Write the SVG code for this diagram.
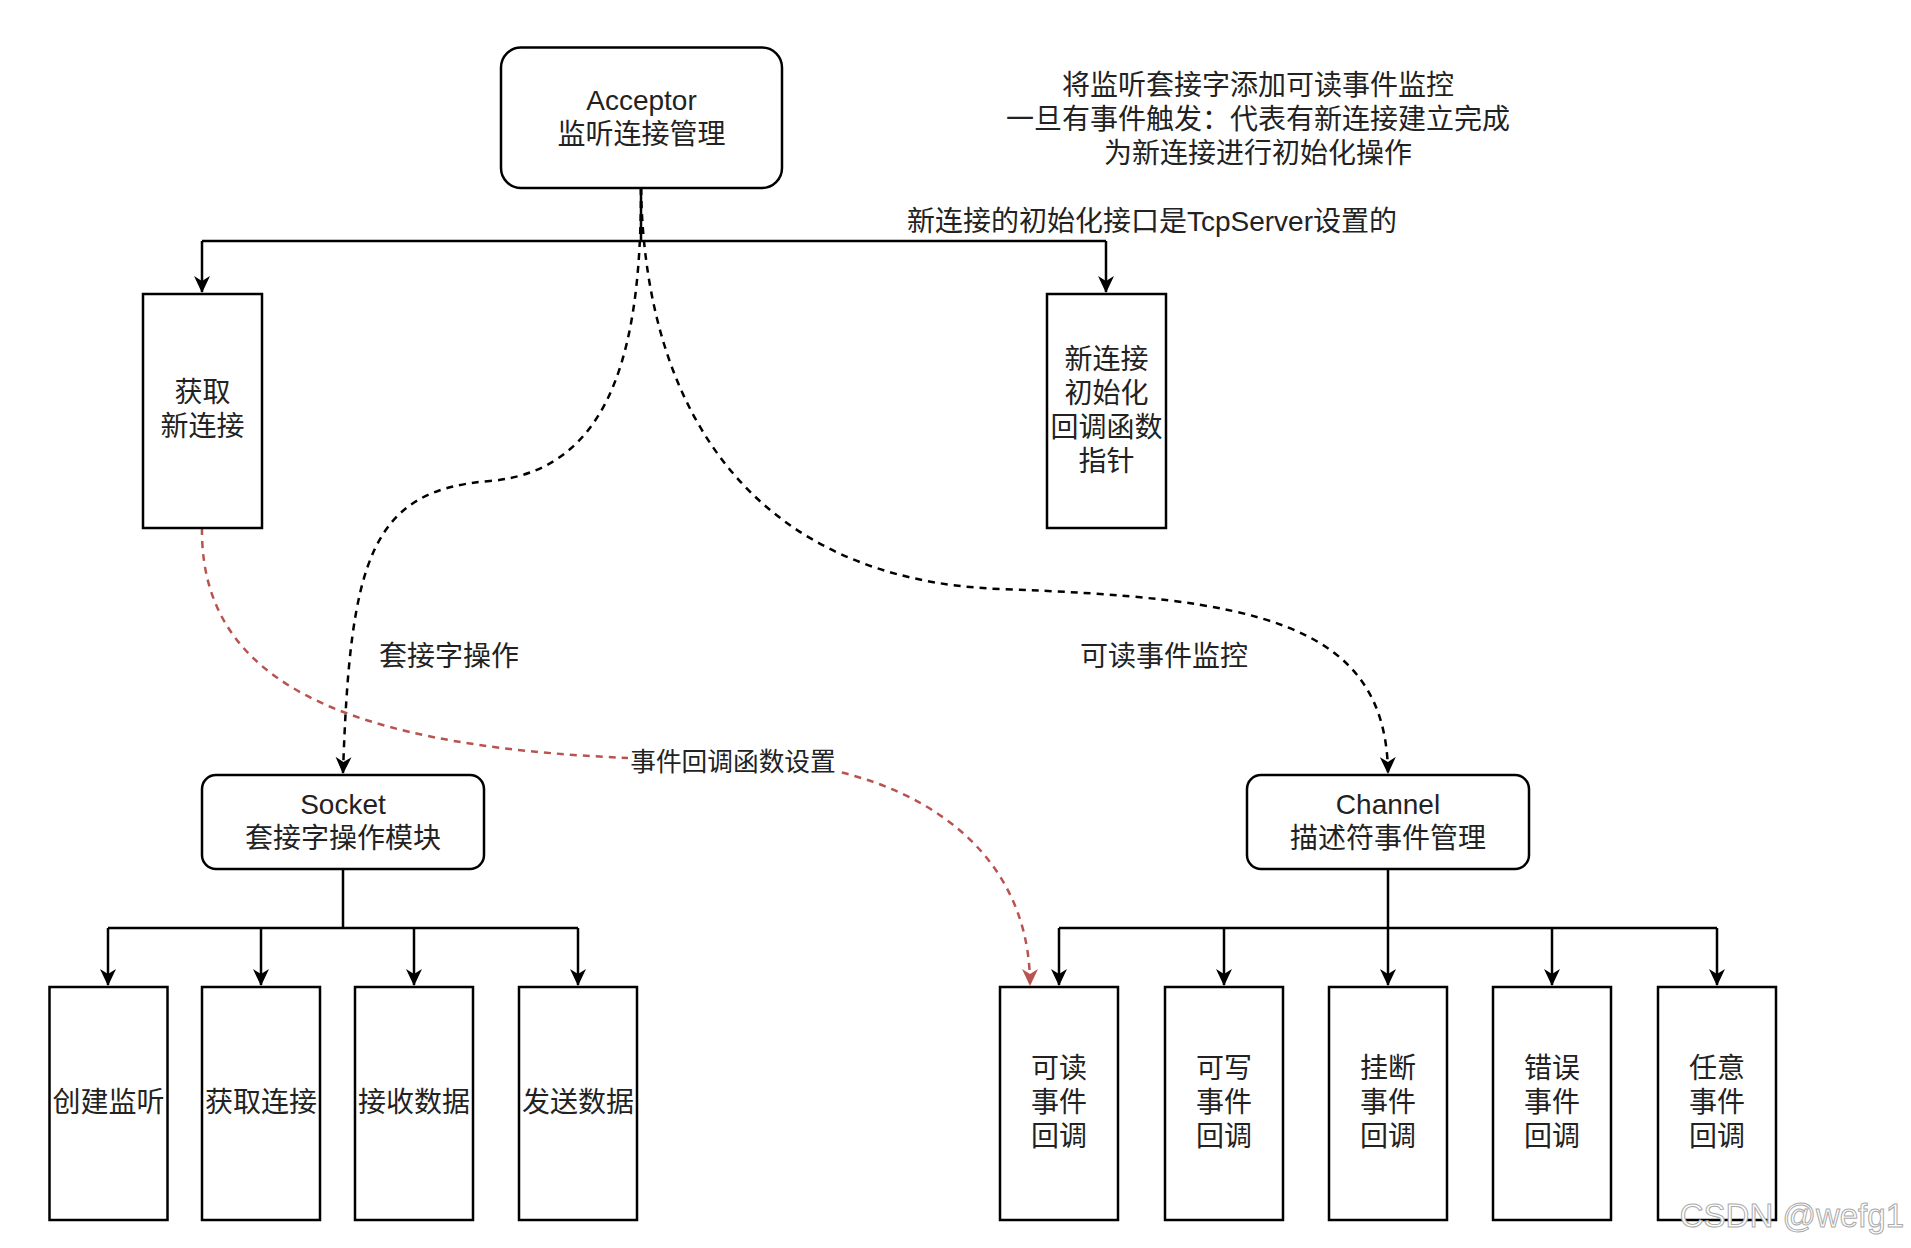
<svg xmlns="http://www.w3.org/2000/svg" width="1911" height="1248" viewBox="0 0 1911 1248">
<defs>
<style>
.box{fill:#fff;stroke:#000;stroke-width:2.5}
.t{font-family:"Liberation Sans","Noto Sans CJK SC",sans-serif;font-size:28px;fill:#222;text-anchor:middle}
.lbl{font-size:25.7px}
.e{fill:none;stroke:#000;stroke-width:2.5}
.d{stroke-dasharray:7 6}
.r{stroke:#b85450}
</style>
<marker id="ab" viewBox="0 0 17 16" markerWidth="17" markerHeight="16" refX="16" refY="8" orient="auto" markerUnits="userSpaceOnUse"><path d="M0,0 L17,8 L0,16 L5,8 z" fill="#000"/></marker>
<marker id="ar" viewBox="0 0 17 16" markerWidth="17" markerHeight="16" refX="16" refY="8" orient="auto" markerUnits="userSpaceOnUse"><path d="M0,0 L17,8 L0,16 L5,8 z" fill="#b85450"/></marker>
</defs>
<rect width="1911" height="1248" fill="#fff"/>

<g id="connectors">
  <path class="e" d="M641,188 V241 M202,241 H1106"/>
  <path class="e" d="M202,241 V292" marker-end="url(#ab)"/>
  <path class="e" d="M1106,241 V292" marker-end="url(#ab)"/>
  <path class="e d" d="M641,188 C641,330 620,470 490,481 C370,490 350,560 343,773" marker-end="url(#ab)"/>
  <path class="e d" d="M641,188 C645,420 760,580 1000,589 C1250,598 1386,620 1388,773" marker-end="url(#ab)"/>
  <path class="e" d="M343,869 V928 M108,928 H578 M1388,869 V928 M1059,928 H1717"/>
  <path class="e" d="M108,928 V985" marker-end="url(#ab)"/>
  <path class="e" d="M261,928 V985" marker-end="url(#ab)"/>
  <path class="e" d="M414,928 V985" marker-end="url(#ab)"/>
  <path class="e" d="M578,928 V985" marker-end="url(#ab)"/>
  <path class="e" d="M1059,928 V985" marker-end="url(#ab)"/>
  <path class="e" d="M1224,928 V985" marker-end="url(#ab)"/>
  <path class="e" d="M1388,928 V985" marker-end="url(#ab)"/>
  <path class="e" d="M1552,928 V985" marker-end="url(#ab)"/>
  <path class="e" d="M1717,928 V985" marker-end="url(#ab)"/>
  <path class="e d r" d="M202,528 C200,700 380,760 734,760 C900,760 1030,840 1030,985" marker-end="url(#ar)"/>
  <rect x="628" y="746" width="210" height="30" fill="#fff"/>
  <text class="t lbl" x="733" y="771">事件回调函数设置</text>
</g>

<g id="acceptor">
  <rect class="box" x="501" y="47.5" width="281" height="140.5" rx="20"/>
  <text class="t" x="641.5" y="110">Acceptor</text>
  <text class="t" x="641.5" y="144">监听连接管理</text>
</g>

<g id="note-top">
  <text class="t" x="1258" y="95">将监听套接字添加可读事件监控</text>
  <text class="t" x="1258" y="129">一旦有事件触发：代表有新连接建立完成</text>
  <text class="t" x="1258" y="163">为新连接进行初始化操作</text>
</g>

<g id="note-init">
  <text class="t" x="1152" y="231">新连接的初始化接口是TcpServer设置的</text>
</g>

<g id="get-conn">
  <rect class="box" x="143" y="294" width="119" height="234"/>
  <text class="t" x="202.5" y="402">获取</text>
  <text class="t" x="202.5" y="436">新连接</text>
</g>

<g id="init-cb">
  <rect class="box" x="1047" y="294" width="119" height="234"/>
  <text class="t" x="1106.5" y="369">新连接</text>
  <text class="t" x="1106.5" y="403">初始化</text>
  <text class="t" x="1106.5" y="437">回调函数</text>
  <text class="t" x="1106.5" y="471">指针</text>
</g>

<g id="label-socket-op">
  <text class="t" x="449" y="666">套接字操作</text>
</g>
<g id="label-read-mon">
  <text class="t" x="1164" y="666">可读事件监控</text>
</g>

<g id="socket">
  <rect class="box" x="202" y="775" width="282" height="94" rx="14"/>
  <text class="t" x="343" y="814">Socket</text>
  <text class="t" x="343" y="848">套接字操作模块</text>
</g>

<g id="channel">
  <rect class="box" x="1247" y="775" width="282" height="94" rx="14"/>
  <text class="t" x="1388" y="814">Channel</text>
  <text class="t" x="1388" y="848">描述符事件管理</text>
</g>

<g id="s1"><rect class="box" x="49.5" y="987" width="118" height="233"/><text class="t" x="108.5" y="1112">创建监听</text></g>
<g id="s2"><rect class="box" x="202" y="987" width="118" height="233"/><text class="t" x="261" y="1112">获取连接</text></g>
<g id="s3"><rect class="box" x="355" y="987" width="118" height="233"/><text class="t" x="414" y="1112">接收数据</text></g>
<g id="s4"><rect class="box" x="519" y="987" width="118" height="233"/><text class="t" x="578" y="1112">发送数据</text></g>

<g id="c1"><rect class="box" x="1000" y="987" width="118" height="233"/><text class="t" x="1059" y="1078">可读</text><text class="t" x="1059" y="1112">事件</text><text class="t" x="1059" y="1146">回调</text></g>
<g id="c2"><rect class="box" x="1165" y="987" width="118" height="233"/><text class="t" x="1224" y="1078">可写</text><text class="t" x="1224" y="1112">事件</text><text class="t" x="1224" y="1146">回调</text></g>
<g id="c3"><rect class="box" x="1329" y="987" width="118" height="233"/><text class="t" x="1388" y="1078">挂断</text><text class="t" x="1388" y="1112">事件</text><text class="t" x="1388" y="1146">回调</text></g>
<g id="c4"><rect class="box" x="1493" y="987" width="118" height="233"/><text class="t" x="1552" y="1078">错误</text><text class="t" x="1552" y="1112">事件</text><text class="t" x="1552" y="1146">回调</text></g>
<g id="c5"><rect class="box" x="1658" y="987" width="118" height="233"/><text class="t" x="1717" y="1078">任意</text><text class="t" x="1717" y="1112">事件</text><text class="t" x="1717" y="1146">回调</text></g>

<text x="1904" y="1227" font-family="Liberation Sans, sans-serif" font-size="33" text-anchor="end" fill="#fff" stroke="#aaa" stroke-width="1">CSDN @wefg1</text>
</svg>
